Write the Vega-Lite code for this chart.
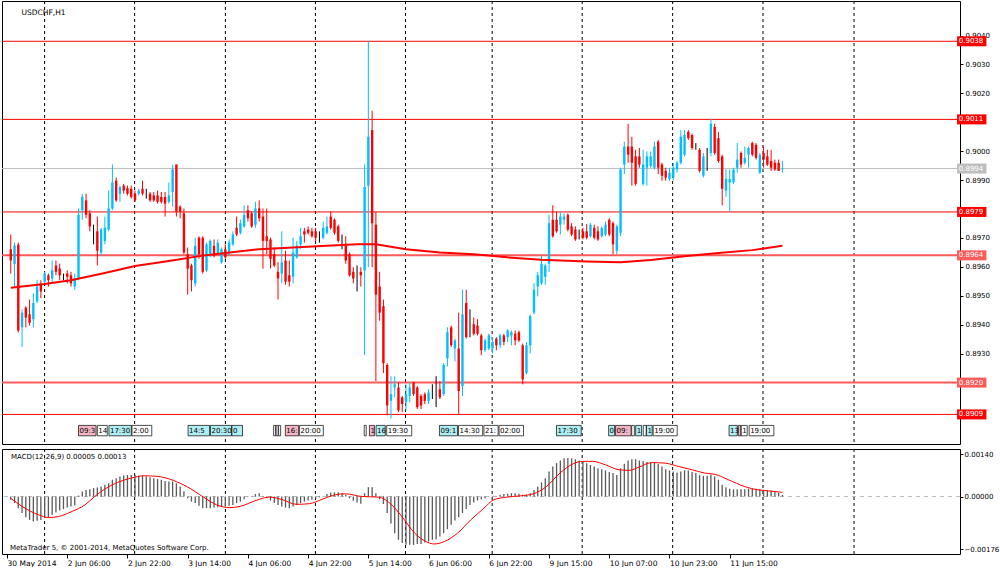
{
  "$schema": "https://vega.github.io/schema/vega-lite/v6.json",
  "background": "white",
  "padding": {"left": 0, "top": 0, "right": 0, "bottom": 0},
  "spacing": 3,
  "resolve": {"scale": {"x": "independent", "y": "independent"}},
  "config": {
    "view": {"stroke": "#000000", "strokeWidth": 1},
    "axis": {"labelFont": "DejaVu Sans", "labelColor": "#000000", "tickColor": "#000000", "domain": false, "grid": false}
  },
  "datasets": {
    "bars": [
      {"k":1,"o":0.89661,"h":0.89712,"l":0.89577,"c":0.89622},
      {"k":2,"o":0.89610,"h":0.89684,"l":0.89532,"c":0.89674},
      {"k":3,"o":0.89677,"h":0.89684,"l":0.89373,"c":0.89380},
      {"k":4,"o":0.89391,"h":0.89453,"l":0.89323,"c":0.89442},
      {"k":5,"o":0.89459,"h":0.89464,"l":0.89391,"c":0.89425},
      {"k":6,"o":0.89436,"h":0.89487,"l":0.89397,"c":0.89407},
      {"k":7,"o":0.89419,"h":0.89509,"l":0.89391,"c":0.89475},
      {"k":8,"o":0.89481,"h":0.89554,"l":0.89475,"c":0.89532},
      {"k":9,"o":0.89538,"h":0.89554,"l":0.89492,"c":0.89515},
      {"k":10,"o":0.89549,"h":0.89583,"l":0.89543,"c":0.89577},
      {"k":11,"o":0.89571,"h":0.89577,"l":0.89532,"c":0.89554},
      {"k":12,"o":0.89560,"h":0.89622,"l":0.89543,"c":0.89588},
      {"k":13,"o":0.89605,"h":0.89622,"l":0.89571,"c":0.89583},
      {"k":14,"o":0.89594,"h":0.89611,"l":0.89554,"c":0.89571},
      {"k":15,"o":0.89566,"h":0.89577,"l":0.89554,"c":0.89566},
      {"k":16,"o":0.89577,"h":0.89588,"l":0.89543,"c":0.89566},
      {"k":17,"o":0.89571,"h":0.89583,"l":0.89532,"c":0.89543},
      {"k":18,"o":0.89532,"h":0.89577,"l":0.89521,"c":0.89560},
      {"k":19,"o":0.89560,"h":0.89802,"l":0.89554,"c":0.89780},
      {"k":20,"o":0.89796,"h":0.89853,"l":0.89763,"c":0.89842},
      {"k":21,"o":0.89830,"h":0.89853,"l":0.89768,"c":0.89780},
      {"k":22,"o":0.89785,"h":0.89796,"l":0.89723,"c":0.89740},
      {"k":23,"o":0.89718,"h":0.89746,"l":0.89678,"c":0.89718},
      {"k":24,"o":0.89723,"h":0.89774,"l":0.89605,"c":0.89656},
      {"k":25,"o":0.89650,"h":0.89735,"l":0.89639,"c":0.89729},
      {"k":26,"o":0.89690,"h":0.89774,"l":0.89678,"c":0.89735},
      {"k":27,"o":0.89729,"h":0.89864,"l":0.89723,"c":0.89802},
      {"k":28,"o":0.89802,"h":0.89954,"l":0.89796,"c":0.89892},
      {"k":29,"o":0.89898,"h":0.89909,"l":0.89825,"c":0.89830},
      {"k":30,"o":0.89853,"h":0.89881,"l":0.89825,"c":0.89876},
      {"k":31,"o":0.89881,"h":0.89887,"l":0.89853,"c":0.89864},
      {"k":32,"o":0.89872,"h":0.89881,"l":0.89847,"c":0.89853},
      {"k":33,"o":0.89870,"h":0.89881,"l":0.89836,"c":0.89842},
      {"k":34,"o":0.89853,"h":0.89864,"l":0.89825,"c":0.89830},
      {"k":35,"o":0.89853,"h":0.89870,"l":0.89847,"c":0.89864},
      {"k":36,"o":0.89870,"h":0.89898,"l":0.89847,"c":0.89853},
      {"k":37,"o":0.89860,"h":0.89870,"l":0.89836,"c":0.89860},
      {"k":38,"o":0.89853,"h":0.89859,"l":0.89825,"c":0.89830},
      {"k":39,"o":0.89847,"h":0.89859,"l":0.89825,"c":0.89830},
      {"k":40,"o":0.89847,"h":0.89864,"l":0.89819,"c":0.89825},
      {"k":41,"o":0.89842,"h":0.89859,"l":0.89819,"c":0.89825},
      {"k":42,"o":0.89842,"h":0.89859,"l":0.89774,"c":0.89819},
      {"k":43,"o":0.89825,"h":0.89892,"l":0.89819,"c":0.89847},
      {"k":44,"o":0.89859,"h":0.89954,"l":0.89808,"c":0.89937},
      {"k":45,"o":0.89954,"h":0.89954,"l":0.89774,"c":0.89791},
      {"k":46,"o":0.89808,"h":0.89813,"l":0.89768,"c":0.89791},
      {"k":47,"o":0.89785,"h":0.89802,"l":0.89644,"c":0.89650},
      {"k":48,"o":0.89644,"h":0.89667,"l":0.89504,"c":0.89594},
      {"k":49,"o":0.89605,"h":0.89611,"l":0.89515,"c":0.89554},
      {"k":50,"o":0.89543,"h":0.89701,"l":0.89532,"c":0.89673},
      {"k":51,"o":0.89701,"h":0.89706,"l":0.89628,"c":0.89644},
      {"k":52,"o":0.89701,"h":0.89706,"l":0.89577,"c":0.89583},
      {"k":53,"o":0.89588,"h":0.89684,"l":0.89583,"c":0.89678},
      {"k":54,"o":0.89644,"h":0.89695,"l":0.89633,"c":0.89690},
      {"k":55,"o":0.89673,"h":0.89695,"l":0.89633,"c":0.89639},
      {"k":56,"o":0.89644,"h":0.89695,"l":0.89639,"c":0.89684},
      {"k":57,"o":0.89616,"h":0.89667,"l":0.89611,"c":0.89661},
      {"k":58,"o":0.89661,"h":0.89678,"l":0.89628,"c":0.89633},
      {"k":59,"o":0.89644,"h":0.89695,"l":0.89639,"c":0.89684},
      {"k":60,"o":0.89678,"h":0.89723,"l":0.89673,"c":0.89712},
      {"k":61,"o":0.89735,"h":0.89774,"l":0.89706,"c":0.89712},
      {"k":62,"o":0.89718,"h":0.89763,"l":0.89712,"c":0.89751},
      {"k":63,"o":0.89740,"h":0.89813,"l":0.89735,"c":0.89780},
      {"k":64,"o":0.89796,"h":0.89813,"l":0.89757,"c":0.89768},
      {"k":65,"o":0.89785,"h":0.89791,"l":0.89735,"c":0.89740},
      {"k":66,"o":0.89746,"h":0.89825,"l":0.89735,"c":0.89802},
      {"k":67,"o":0.89802,"h":0.89830,"l":0.89757,"c":0.89768},
      {"k":68,"o":0.89774,"h":0.89802,"l":0.89594,"c":0.89690},
      {"k":69,"o":0.89706,"h":0.89802,"l":0.89644,"c":0.89690},
      {"k":70,"o":0.89695,"h":0.89701,"l":0.89594,"c":0.89628},
      {"k":71,"o":0.89644,"h":0.89667,"l":0.89599,"c":0.89605},
      {"k":72,"o":0.89583,"h":0.89616,"l":0.89487,"c":0.89560},
      {"k":73,"o":0.89577,"h":0.89723,"l":0.89543,"c":0.89616},
      {"k":74,"o":0.89622,"h":0.89656,"l":0.89538,"c":0.89549},
      {"k":75,"o":0.89571,"h":0.89622,"l":0.89532,"c":0.89549},
      {"k":76,"o":0.89566,"h":0.89701,"l":0.89543,"c":0.89650},
      {"k":77,"o":0.89633,"h":0.89690,"l":0.89628,"c":0.89673},
      {"k":78,"o":0.89678,"h":0.89735,"l":0.89661,"c":0.89706},
      {"k":79,"o":0.89723,"h":0.89735,"l":0.89684,"c":0.89712},
      {"k":80,"o":0.89729,"h":0.89740,"l":0.89712,"c":0.89718},
      {"k":81,"o":0.89723,"h":0.89735,"l":0.89701,"c":0.89706},
      {"k":82,"o":0.89723,"h":0.89735,"l":0.89690,"c":0.89701},
      {"k":83,"o":0.89701,"h":0.89723,"l":0.89684,"c":0.89701},
      {"k":84,"o":0.89701,"h":0.89757,"l":0.89695,"c":0.89735},
      {"k":85,"o":0.89718,"h":0.89774,"l":0.89712,"c":0.89740},
      {"k":86,"o":0.89774,"h":0.89791,"l":0.89729,"c":0.89735},
      {"k":87,"o":0.89763,"h":0.89768,"l":0.89712,"c":0.89718},
      {"k":88,"o":0.89740,"h":0.89746,"l":0.89684,"c":0.89690},
      {"k":89,"o":0.89673,"h":0.89712,"l":0.89661,"c":0.89673},
      {"k":90,"o":0.89673,"h":0.89706,"l":0.89611,"c":0.89622},
      {"k":91,"o":0.89644,"h":0.89650,"l":0.89566,"c":0.89571},
      {"k":92,"o":0.89583,"h":0.89599,"l":0.89543,"c":0.89560},
      {"k":93,"o":0.89583,"h":0.89605,"l":0.89515,"c":0.89583},
      {"k":94,"o":0.89583,"h":0.89599,"l":0.89532,"c":0.89571},
      {"k":95,"o":0.89588,"h":0.89954,"l":0.89295,"c":0.89876},
      {"k":96,"o":0.89881,"h":0.90382,"l":0.89599,"c":0.90050},
      {"k":97,"o":0.90073,"h":0.90140,"l":0.89599,"c":0.89751},
      {"k":98,"o":0.89746,"h":0.89791,"l":0.89205,"c":0.89504},
      {"k":99,"o":0.89532,"h":0.89583,"l":0.89414,"c":0.89442},
      {"k":100,"o":0.89464,"h":0.89487,"l":0.89233,"c":0.89267},
      {"k":101,"o":0.89261,"h":0.89267,"l":0.89087,"c":0.89121},
      {"k":102,"o":0.89137,"h":0.89222,"l":0.89076,"c":0.89160},
      {"k":103,"o":0.89183,"h":0.89222,"l":0.89149,"c":0.89194},
      {"k":104,"o":0.89183,"h":0.89200,"l":0.89098,"c":0.89104},
      {"k":105,"o":0.89149,"h":0.89154,"l":0.89098,"c":0.89126},
      {"k":106,"o":0.89132,"h":0.89194,"l":0.89104,"c":0.89160},
      {"k":107,"o":0.89154,"h":0.89200,"l":0.89132,"c":0.89183},
      {"k":108,"o":0.89200,"h":0.89203,"l":0.89154,"c":0.89160},
      {"k":109,"o":0.89183,"h":0.89188,"l":0.89109,"c":0.89115},
      {"k":110,"o":0.89154,"h":0.89160,"l":0.89109,"c":0.89121},
      {"k":111,"o":0.89160,"h":0.89166,"l":0.89126,"c":0.89137},
      {"k":112,"o":0.89137,"h":0.89177,"l":0.89126,"c":0.89166},
      {"k":113,"o":0.89167,"h":0.89194,"l":0.89143,"c":0.89167},
      {"k":114,"o":0.89160,"h":0.89222,"l":0.89115,"c":0.89160},
      {"k":115,"o":0.89177,"h":0.89205,"l":0.89143,"c":0.89149},
      {"k":116,"o":0.89160,"h":0.89267,"l":0.89154,"c":0.89261},
      {"k":117,"o":0.89284,"h":0.89391,"l":0.89256,"c":0.89374},
      {"k":118,"o":0.89391,"h":0.89397,"l":0.89323,"c":0.89329},
      {"k":119,"o":0.89318,"h":0.89352,"l":0.89273,"c":0.89346},
      {"k":120,"o":0.89318,"h":0.89442,"l":0.89092,"c":0.89171},
      {"k":121,"o":0.89188,"h":0.89521,"l":0.89154,"c":0.89436},
      {"k":122,"o":0.89475,"h":0.89521,"l":0.89352,"c":0.89357},
      {"k":123,"o":0.89430,"h":0.89453,"l":0.89357,"c":0.89430},
      {"k":124,"o":0.89402,"h":0.89425,"l":0.89363,"c":0.89369},
      {"k":125,"o":0.89397,"h":0.89419,"l":0.89363,"c":0.89369},
      {"k":126,"o":0.89363,"h":0.89369,"l":0.89295,"c":0.89312},
      {"k":127,"o":0.89312,"h":0.89352,"l":0.89306,"c":0.89346},
      {"k":128,"o":0.89318,"h":0.89369,"l":0.89312,"c":0.89363},
      {"k":129,"o":0.89318,"h":0.89357,"l":0.89301,"c":0.89340},
      {"k":130,"o":0.89352,"h":0.89357,"l":0.89312,"c":0.89329},
      {"k":131,"o":0.89329,"h":0.89369,"l":0.89318,"c":0.89363},
      {"k":132,"o":0.89363,"h":0.89369,"l":0.89329,"c":0.89340},
      {"k":133,"o":0.89357,"h":0.89385,"l":0.89340,"c":0.89380},
      {"k":134,"o":0.89363,"h":0.89380,"l":0.89329,"c":0.89374},
      {"k":135,"o":0.89369,"h":0.89380,"l":0.89329,"c":0.89346},
      {"k":136,"o":0.89374,"h":0.89380,"l":0.89340,"c":0.89346},
      {"k":137,"o":0.89329,"h":0.89335,"l":0.89194,"c":0.89211},
      {"k":138,"o":0.89233,"h":0.89340,"l":0.89228,"c":0.89329},
      {"k":139,"o":0.89329,"h":0.89436,"l":0.89301,"c":0.89430},
      {"k":140,"o":0.89442,"h":0.89543,"l":0.89436,"c":0.89521},
      {"k":141,"o":0.89532,"h":0.89583,"l":0.89498,"c":0.89571},
      {"k":142,"o":0.89543,"h":0.89639,"l":0.89538,"c":0.89611},
      {"k":143,"o":0.89566,"h":0.89611,"l":0.89538,"c":0.89605},
      {"k":144,"o":0.89611,"h":0.89780,"l":0.89583,"c":0.89751},
      {"k":145,"o":0.89763,"h":0.89813,"l":0.89701,"c":0.89706},
      {"k":146,"o":0.89763,"h":0.89791,"l":0.89718,"c":0.89723},
      {"k":147,"o":0.89746,"h":0.89791,"l":0.89712,"c":0.89774},
      {"k":148,"o":0.89763,"h":0.89785,"l":0.89746,"c":0.89774},
      {"k":149,"o":0.89780,"h":0.89785,"l":0.89723,"c":0.89729},
      {"k":150,"o":0.89740,"h":0.89751,"l":0.89706,"c":0.89712},
      {"k":151,"o":0.89729,"h":0.89740,"l":0.89690,"c":0.89695},
      {"k":152,"o":0.89706,"h":0.89729,"l":0.89695,"c":0.89706},
      {"k":153,"o":0.89723,"h":0.89735,"l":0.89695,"c":0.89701},
      {"k":154,"o":0.89723,"h":0.89748,"l":0.89695,"c":0.89701},
      {"k":155,"o":0.89706,"h":0.89751,"l":0.89701,"c":0.89746},
      {"k":156,"o":0.89735,"h":0.89746,"l":0.89695,"c":0.89701},
      {"k":157,"o":0.89723,"h":0.89740,"l":0.89690,"c":0.89695},
      {"k":158,"o":0.89706,"h":0.89740,"l":0.89701,"c":0.89735},
      {"k":159,"o":0.89712,"h":0.89757,"l":0.89706,"c":0.89746},
      {"k":160,"o":0.89763,"h":0.89768,"l":0.89706,"c":0.89712},
      {"k":161,"o":0.89751,"h":0.89757,"l":0.89644,"c":0.89678},
      {"k":162,"o":0.89656,"h":0.89746,"l":0.89644,"c":0.89740},
      {"k":163,"o":0.89718,"h":0.89943,"l":0.89706,"c":0.89937},
      {"k":164,"o":0.89954,"h":0.90033,"l":0.89921,"c":0.90016},
      {"k":165,"o":0.90016,"h":0.90095,"l":0.89960,"c":0.89988},
      {"k":166,"o":0.90016,"h":0.90050,"l":0.89881,"c":0.89960},
      {"k":167,"o":0.89982,"h":0.90005,"l":0.89881,"c":0.89887},
      {"k":168,"o":0.89982,"h":0.90011,"l":0.89943,"c":0.89954},
      {"k":169,"o":0.89887,"h":0.90005,"l":0.89881,"c":0.89954},
      {"k":170,"o":0.89943,"h":0.89999,"l":0.89881,"c":0.89982},
      {"k":171,"o":0.89949,"h":0.89999,"l":0.89943,"c":0.89982},
      {"k":172,"o":0.89943,"h":0.90033,"l":0.89937,"c":0.90016},
      {"k":173,"o":0.90033,"h":0.90039,"l":0.89921,"c":0.89943},
      {"k":174,"o":0.89954,"h":0.89960,"l":0.89898,"c":0.89915},
      {"k":175,"o":0.89932,"h":0.89943,"l":0.89898,"c":0.89909},
      {"k":176,"o":0.89904,"h":0.89943,"l":0.89898,"c":0.89926},
      {"k":177,"o":0.89909,"h":0.89960,"l":0.89898,"c":0.89943},
      {"k":178,"o":0.89937,"h":0.89966,"l":0.89926,"c":0.89960},
      {"k":179,"o":0.89960,"h":0.90073,"l":0.89954,"c":0.90050},
      {"k":180,"o":0.89988,"h":0.90073,"l":0.89982,"c":0.90056},
      {"k":181,"o":0.90067,"h":0.90073,"l":0.90039,"c":0.90045},
      {"k":182,"o":0.90056,"h":0.90061,"l":0.90005,"c":0.90011},
      {"k":183,"o":0.90015,"h":0.90028,"l":0.90005,"c":0.90015},
      {"k":184,"o":0.90005,"h":0.90011,"l":0.89926,"c":0.89932},
      {"k":185,"o":0.89915,"h":0.89994,"l":0.89909,"c":0.89982},
      {"k":186,"o":0.89971,"h":0.90011,"l":0.89932,"c":0.89971},
      {"k":187,"o":0.89994,"h":0.90112,"l":0.89982,"c":0.90095},
      {"k":188,"o":0.90084,"h":0.90095,"l":0.89988,"c":0.89994},
      {"k":189,"o":0.90045,"h":0.90067,"l":0.89960,"c":0.89966},
      {"k":190,"o":0.89982,"h":0.89988,"l":0.89813,"c":0.89870},
      {"k":191,"o":0.89864,"h":0.89937,"l":0.89842,"c":0.89904},
      {"k":192,"o":0.89892,"h":0.89937,"l":0.89791,"c":0.89904},
      {"k":193,"o":0.89892,"h":0.89943,"l":0.89887,"c":0.89937},
      {"k":194,"o":0.89943,"h":0.90028,"l":0.89926,"c":0.89971},
      {"k":195,"o":0.89994,"h":0.89999,"l":0.89943,"c":0.89954},
      {"k":196,"o":0.89960,"h":0.90016,"l":0.89954,"c":0.89977},
      {"k":197,"o":0.89988,"h":0.90016,"l":0.89943,"c":0.90011},
      {"k":198,"o":0.90028,"h":0.90033,"l":0.89982,"c":0.89988},
      {"k":199,"o":0.90022,"h":0.90028,"l":0.89971,"c":0.89977},
      {"k":200,"o":0.89926,"h":0.89994,"l":0.89921,"c":0.89988},
      {"k":201,"o":0.89994,"h":0.90016,"l":0.89943,"c":0.89971},
      {"k":202,"o":0.89982,"h":0.90005,"l":0.89949,"c":0.89954},
      {"k":203,"o":0.89966,"h":0.90005,"l":0.89932,"c":0.89943},
      {"k":204,"o":0.89960,"h":0.89971,"l":0.89932,"c":0.89937},
      {"k":205,"o":0.89960,"h":0.89971,"l":0.89932,"c":0.89932},
      {"k":206,"o":0.89937,"h":0.89966,"l":0.89926,"c":0.89940}
    ],
    "ma": [
      {"k":1,"p":0.89528},{"k":10,"p":0.89541},{"k":17,"p":0.89554},{"k":26,"p":0.89579},
      {"k":34,"p":0.89603},{"k":43,"p":0.89620},{"k":52,"p":0.89639},{"k":58,"p":0.89648},
      {"k":67,"p":0.89661},{"k":76,"p":0.89667},{"k":85,"p":0.89673},{"k":93,"p":0.89678},
      {"k":98,"p":0.89678},{"k":106,"p":0.89661},{"k":115,"p":0.89650},{"k":124,"p":0.89644},
      {"k":133,"p":0.89633},{"k":142,"p":0.89625},{"k":154,"p":0.89619},{"k":163,"p":0.89616},
      {"k":171,"p":0.89624},{"k":180,"p":0.89637},{"k":189,"p":0.89648},{"k":198,"p":0.89658},
      {"k":206,"p":0.89673}
    ],
    "hist": [
      {"k":1,"v":-0.00011},{"k":2,"v":-0.00022},{"k":3,"v":-0.00039},{"k":4,"v":-0.00055},{"k":5,"v":-0.00069},
      {"k":6,"v":-0.00078},{"k":7,"v":-0.00083},{"k":8,"v":-0.00081},{"k":9,"v":-0.00078},{"k":10,"v":-0.00072},
      {"k":11,"v":-0.00069},{"k":12,"v":-0.00061},{"k":13,"v":-0.00053},{"k":14,"v":-0.00047},{"k":15,"v":-0.00042},
      {"k":16,"v":-0.00037},{"k":17,"v":-0.00033},{"k":18,"v":-0.00030},{"k":19,"v":0.00003},{"k":20,"v":0.00017},
      {"k":21,"v":0.00022},{"k":22,"v":0.00024},{"k":23,"v":0.00028},{"k":24,"v":0.00030},{"k":25,"v":0.00033},
      {"k":26,"v":0.00039},{"k":27,"v":0.00044},{"k":28,"v":0.00056},{"k":29,"v":0.00061},{"k":30,"v":0.00067},
      {"k":31,"v":0.00070},{"k":32,"v":0.00072},{"k":33,"v":0.00072},{"k":34,"v":0.00072},{"k":35,"v":0.00070},
      {"k":36,"v":0.00069},{"k":37,"v":0.00067},{"k":38,"v":0.00064},{"k":39,"v":0.00061},{"k":40,"v":0.00058},
      {"k":41,"v":0.00056},{"k":42,"v":0.00052},{"k":43,"v":0.00050},{"k":44,"v":0.00050},{"k":45,"v":0.00044},
      {"k":46,"v":0.00033},{"k":47,"v":0.00017},{"k":48,"v":-0.00006},{"k":49,"v":-0.00017},{"k":50,"v":-0.00022},
      {"k":51,"v":-0.00031},{"k":52,"v":-0.00039},{"k":53,"v":-0.00039},{"k":54,"v":-0.00039},{"k":55,"v":-0.00037},
      {"k":56,"v":-0.00036},{"k":57,"v":-0.00033},{"k":58,"v":-0.00033},{"k":59,"v":-0.00031},{"k":60,"v":-0.00028},
      {"k":61,"v":-0.00022},{"k":62,"v":-0.00017},{"k":63,"v":-0.00009},{"k":64,"v":-0.00002},{"k":65,"v":0.00002},
      {"k":66,"v":0.00008},{"k":67,"v":0.00011},{"k":68,"v":0.00002},{"k":69,"v":-0.00006},{"k":70,"v":-0.00014},
      {"k":71,"v":-0.00022},{"k":72,"v":-0.00028},{"k":73,"v":-0.00033},{"k":74,"v":-0.00037},{"k":75,"v":-0.00039},
      {"k":76,"v":-0.00033},{"k":77,"v":-0.00028},{"k":78,"v":-0.00022},{"k":79,"v":-0.00017},{"k":80,"v":-0.00013},
      {"k":81,"v":-0.00011},{"k":82,"v":-0.00007},{"k":83,"v":-0.00003},{"k":84,"v":0.00002},{"k":85,"v":0.00008},
      {"k":86,"v":0.00013},{"k":87,"v":0.00014},{"k":88,"v":0.00014},{"k":89,"v":0.00011},{"k":90,"v":0.00006},
      {"k":91,"v":-0.00006},{"k":92,"v":-0.00014},{"k":93,"v":-0.00020},{"k":94,"v":-0.00024},{"k":95,"v":0.00011},
      {"k":96,"v":0.00031},{"k":97,"v":0.00031},{"k":98,"v":0.00011},{"k":99,"v":-0.00009},{"k":100,"v":-0.00025},
      {"k":101,"v":-0.00055},{"k":102,"v":-0.00090},{"k":103,"v":-0.00122},{"k":104,"v":-0.00144},{"k":105,"v":-0.00155},
      {"k":106,"v":-0.00161},{"k":107,"v":-0.00161},{"k":108,"v":-0.00161},{"k":109,"v":-0.00158},{"k":110,"v":-0.00158},
      {"k":111,"v":-0.00153},{"k":112,"v":-0.00150},{"k":113,"v":-0.00144},{"k":114,"v":-0.00142},{"k":115,"v":-0.00133},
      {"k":116,"v":-0.00122},{"k":117,"v":-0.00109},{"k":118,"v":-0.00094},{"k":119,"v":-0.00080},{"k":120,"v":-0.00069},
      {"k":121,"v":-0.00055},{"k":122,"v":-0.00042},{"k":123,"v":-0.00028},{"k":124,"v":-0.00020},{"k":125,"v":-0.00013},
      {"k":126,"v":-0.00009},{"k":127,"v":-0.00006},{"k":128,"v":-0.00002},{"k":129,"v":0.00001},{"k":130,"v":0.00002},
      {"k":131,"v":0.00006},{"k":132,"v":0.00008},{"k":133,"v":0.00009},{"k":134,"v":0.00011},{"k":135,"v":0.00011},
      {"k":136,"v":0.00009},{"k":137,"v":0.00006},{"k":138,"v":0.00006},{"k":139,"v":0.00011},{"k":140,"v":0.00022},
      {"k":141,"v":0.00033},{"k":142,"v":0.00047},{"k":143,"v":0.00061},{"k":144,"v":0.00083},{"k":145,"v":0.00100},
      {"k":146,"v":0.00111},{"k":147,"v":0.00120},{"k":148,"v":0.00127},{"k":149,"v":0.00128},{"k":150,"v":0.00127},
      {"k":151,"v":0.00124},{"k":152,"v":0.00120},{"k":153,"v":0.00115},{"k":154,"v":0.00111},{"k":155,"v":0.00105},
      {"k":156,"v":0.00100},{"k":157,"v":0.00094},{"k":158,"v":0.00091},{"k":159,"v":0.00087},{"k":160,"v":0.00082},
      {"k":161,"v":0.00078},{"k":162,"v":0.00072},{"k":163,"v":0.00094},{"k":164,"v":0.00109},{"k":165,"v":0.00120},
      {"k":166,"v":0.00124},{"k":167,"v":0.00124},{"k":168,"v":0.00120},{"k":169,"v":0.00118},{"k":170,"v":0.00115},
      {"k":171,"v":0.00113},{"k":172,"v":0.00113},{"k":173,"v":0.00109},{"k":174,"v":0.00100},{"k":175,"v":0.00091},
      {"k":176,"v":0.00087},{"k":177,"v":0.00083},{"k":178,"v":0.00080},{"k":179,"v":0.00083},{"k":180,"v":0.00087},
      {"k":181,"v":0.00087},{"k":182,"v":0.00082},{"k":183,"v":0.00078},{"k":184,"v":0.00071},{"k":185,"v":0.00069},
      {"k":186,"v":0.00069},{"k":187,"v":0.00073},{"k":188,"v":0.00067},{"k":189,"v":0.00056},{"k":190,"v":0.00039},
      {"k":191,"v":0.00031},{"k":192,"v":0.00026},{"k":193,"v":0.00024},{"k":194,"v":0.00024},{"k":195,"v":0.00024},
      {"k":196,"v":0.00024},{"k":197,"v":0.00026},{"k":198,"v":0.00027},{"k":199,"v":0.00026},{"k":200,"v":0.00024},
      {"k":201,"v":0.00022},{"k":202,"v":0.00021},{"k":203,"v":0.00020},{"k":204,"v":0.00015},{"k":205,"v":0.00012},
      {"k":206,"v":0.00005}
    ],
    "sig": [
      {"k":1,"v":-0.00006},{"k":4,"v":-0.00033},{"k":8.4,"v":-0.00061},{"k":11,"v":-0.00070},{"k":13.6,"v":-0.00067},
      {"k":17.2,"v":-0.00050},{"k":20.7,"v":-0.00028},{"k":23.3,"v":0.0},{"k":25.9,"v":0.00024},{"k":29.4,"v":0.00047},
      {"k":32.9,"v":0.00061},{"k":36.4,"v":0.00069},{"k":40,"v":0.00067},{"k":44.3,"v":0.00053},{"k":47.8,"v":0.00033},
      {"k":52.2,"v":-0.00002},{"k":55.7,"v":-0.00028},{"k":59.2,"v":-0.00037},{"k":61.9,"v":-0.00033},{"k":66.2,"v":-0.00013},
      {"k":69.7,"v":-0.00002},{"k":73.3,"v":-0.00011},{"k":76.8,"v":-0.00026},{"k":80.3,"v":-0.00024},{"k":83.8,"v":-0.00009},
      {"k":87.3,"v":0.00006},{"k":89.9,"v":0.00009},{"k":94.3,"v":0.0},{"k":98.7,"v":-0.00002},{"k":102.2,"v":-0.00028},
      {"k":104.8,"v":-0.00065},{"k":108.3,"v":-0.00122},{"k":111.8,"v":-0.00153},{"k":113.5,"v":-0.00158},{"k":116.2,"v":-0.00150},
      {"k":119.7,"v":-0.00122},{"k":123.2,"v":-0.00078},{"k":126.7,"v":-0.00039},{"k":129.3,"v":-0.00011},{"k":132.8,"v":-0.00002},
      {"k":136.3,"v":0.00002},{"k":139.8,"v":0.00009},{"k":143.3,"v":0.00033},{"k":146.9,"v":0.00078},{"k":150.4,"v":0.00109},
      {"k":153,"v":0.00117},{"k":155.6,"v":0.00117},{"k":159.1,"v":0.00105},{"k":162.6,"v":0.00089},{"k":165.3,"v":0.00087},
      {"k":167.9,"v":0.00098},{"k":171.4,"v":0.00113},{"k":174.9,"v":0.00111},{"k":178.4,"v":0.00100},{"k":182,"v":0.00089},
      {"k":185.4,"v":0.00078},{"k":188.1,"v":0.00074},{"k":191.6,"v":0.00056},{"k":196,"v":0.00033},{"k":199.5,"v":0.00022},
      {"k":201.2,"v":0.00020},{"k":206,"v":0.00014}
    ],
    "seps": [
      {"k":9.99},{"k":33.91},{"k":58.02},{"k":81.94},{"k":105.86},
      {"k":128.89},{"k":152.81},{"k":176.84},{"k":200.84},{"k":225.03}
    ],
    "levels": [
      {"p":0.9038,"kind":"line"},{"p":0.9011,"kind":"line"},{"p":0.8994,"kind":"bid"},
      {"p":0.8979,"kind":"line"},{"p":0.8964,"kind":"zone"},{"p":0.892,"kind":"zone"},
      {"p":0.8909,"kind":"line"}
    ],
    "flags": [
      {"k0":19.0,"k1":23.66,"t":"09:3","imp":"high"},
      {"k0":24.0,"k1":26.63,"t":"14","imp":"low"},
      {"k0":27.08,"k1":33.04,"t":"17:30","imp":"medium"},
      {"k0":33.2,"k1":38.46,"t":"2:00","imp":"low"},
      {"k0":48.1,"k1":53.81,"t":"14:5","imp":"medium"},
      {"k0":54.07,"k1":59.67,"t":"20:30","imp":"medium"},
      {"k0":59.75,"k1":62.57,"t":"0","imp":"medium"},
      {"k0":70.84,"k1":71.37,"t":"","imp":"low"},
      {"k0":71.5,"k1":72.03,"t":"","imp":"low"},
      {"k0":72.16,"k1":72.69,"t":"","imp":"low"},
      {"k0":73.95,"k1":77.47,"t":"16:","imp":"high"},
      {"k0":77.73,"k1":84.04,"t":"20:00","imp":"low"},
      {"k0":94.9,"k1":95.43,"t":"","imp":"low"},
      {"k0":96.29,"k1":97.61,"t":"1","imp":"high"},
      {"k0":98.05,"k1":100.5,"t":"16","imp":"medium"},
      {"k0":100.87,"k1":107.52,"t":"19:30","imp":"low"},
      {"k0":114.88,"k1":119.69,"t":"09:1","imp":"medium"},
      {"k0":119.95,"k1":126.37,"t":"14:30","imp":"low"},
      {"k0":126.7,"k1":130.47,"t":"21:","imp":"low"},
      {"k0":130.73,"k1":137.22,"t":"02:00","imp":"low"},
      {"k0":145.98,"k1":152.55,"t":"17:30","imp":"medium"},
      {"k0":159.83,"k1":161.41,"t":"0","imp":"medium"},
      {"k0":161.67,"k1":165.8,"t":"09:","imp":"high"},
      {"k0":165.96,"k1":166.67,"t":"","imp":"low"},
      {"k0":167.01,"k1":168.59,"t":"1","imp":"medium"},
      {"k0":169.03,"k1":169.82,"t":"","imp":"low"},
      {"k0":169.9,"k1":171.4,"t":"1","imp":"medium"},
      {"k0":171.66,"k1":178.05,"t":"19:00","imp":"low"},
      {"k0":191.82,"k1":194.01,"t":"13","imp":"medium"},
      {"k0":194.27,"k1":194.93,"t":"","imp":"high"},
      {"k0":195.06,"k1":196.64,"t":"1","imp":"low"},
      {"k0":197.16,"k1":203.73,"t":"19:00","imp":"low"}
    ]
  },
  "vconcat": [
    {
      "width": 958,
      "height": 443,
      "layer": [
        {
          "data": {"name": "seps"},
          "mark": {"type": "rule", "color": "#000000", "strokeDash": [3, 3], "strokeWidth": 1},
          "encoding": {
            "x": {"field": "k", "type": "quantitative", "title": null, "scale": {"domain": [0, 251.85], "nice": false, "zero": false}, "axis": null}
          }
        },
        {
          "data": {"name": "levels"},
          "mark": {"type": "rule"},
          "encoding": {
            "y": {"field": "p", "type": "quantitative", "title": null, "scale": {"domain": [0.89005, 0.90502], "nice": false, "zero": false},
              "axis": {"orient": "right", "format": ".4f", "tickSize": 3, "labelPadding": 2, "labelFontSize": 7, "labelOverlap": false, "labelFlush": false, "labelBound": false, "values": [0.893, 0.894, 0.895, 0.896, 0.897, 0.899, 0.9, 0.902, 0.903, 0.904]}},
            "color": {"field": "kind", "type": "nominal", "legend": null,
              "scale": {"domain": ["line", "zone", "bid"], "range": ["#FF0000", "#FF5A5A", "#BEBEBE"]}},
            "strokeWidth": {"condition": {"test": "datum.kind === 'zone'", "value": 2}, "value": 1}
          }
        },
        {
          "data": {"name": "bars"},
          "mark": {"type": "rule", "strokeWidth": 1},
          "encoding": {
            "x": {"field": "k", "type": "quantitative", "title": null, "scale": {"domain": [0, 251.85], "nice": false, "zero": false}, "axis": null},
            "y": {"field": "l", "type": "quantitative", "title": null, "scale": {"domain": [0.89005, 0.90502], "nice": false, "zero": false},
              "axis": {"orient": "right", "format": ".4f", "tickSize": 3, "labelPadding": 2, "labelFontSize": 7, "labelOverlap": false, "labelFlush": false, "labelBound": false, "values": [0.893, 0.894, 0.895, 0.896, 0.897, 0.899, 0.9, 0.902, 0.903, 0.904]}},
            "y2": {"field": "h"},
            "color": {"condition": [{"test": "datum.c > datum.o", "value": "#00BFFF"}, {"test": "datum.c < datum.o", "value": "#FF0000"}], "value": "#000000"}
          }
        },
        {
          "data": {"name": "bars"},
          "mark": {"type": "bar", "orient": "vertical", "size": 2.4},
          "encoding": {
            "x": {"field": "k", "type": "quantitative", "title": null, "scale": {"domain": [0, 251.85], "nice": false, "zero": false}, "axis": null},
            "y": {"field": "o", "type": "quantitative", "title": null, "scale": {"domain": [0.89005, 0.90502], "nice": false, "zero": false},
              "axis": {"orient": "right", "format": ".4f", "tickSize": 3, "labelPadding": 2, "labelFontSize": 7, "labelOverlap": false, "labelFlush": false, "labelBound": false, "values": [0.893, 0.894, 0.895, 0.896, 0.897, 0.899, 0.9, 0.902, 0.903, 0.904]}},
            "y2": {"field": "c"},
            "color": {"condition": [{"test": "datum.c > datum.o", "value": "#00BFFF"}, {"test": "datum.c < datum.o", "value": "#FF0000"}], "value": "#000000"}
          }
        },
        {
          "data": {"name": "ma"},
          "mark": {"type": "line", "color": "#FF0000", "strokeWidth": 2},
          "encoding": {
            "x": {"field": "k", "type": "quantitative", "title": null, "scale": {"domain": [0, 251.85], "nice": false, "zero": false}, "axis": null},
            "y": {"field": "p", "type": "quantitative", "title": null, "scale": {"domain": [0.89005, 0.90502], "nice": false, "zero": false},
              "axis": {"orient": "right", "format": ".4f", "tickSize": 3, "labelPadding": 2, "labelFontSize": 7, "labelOverlap": false, "labelFlush": false, "labelBound": false, "values": [0.893, 0.894, 0.895, 0.896, 0.897, 0.899, 0.9, 0.902, 0.903, 0.904]}}
          }
        },
        {
          "data": {"name": "flags"},
          "mark": {"type": "rect", "stroke": "#000000", "strokeWidth": 0.7},
          "encoding": {
            "x": {"field": "k0", "type": "quantitative", "title": null, "scale": {"domain": [0, 251.85], "nice": false, "zero": false}, "axis": null},
            "x2": {"field": "k1"},
            "y": {"datum": 0.89052, "type": "quantitative", "title": null, "scale": {"domain": [0.89005, 0.90502], "nice": false, "zero": false},
              "axis": {"orient": "right", "format": ".4f", "tickSize": 3, "labelPadding": 2, "labelFontSize": 7, "labelOverlap": false, "labelFlush": false, "labelBound": false, "values": [0.893, 0.894, 0.895, 0.896, 0.897, 0.899, 0.9, 0.902, 0.903, 0.904]}},
            "y2": {"datum": 0.89016},
            "fill": {"field": "imp", "type": "nominal", "legend": null,
              "scale": {"domain": ["low", "medium", "high"], "range": ["#FFFFFF", "#AEEFF3", "#F4B6C6"]}}
          }
        },
        {
          "data": {"name": "flags"},
          "mark": {"type": "text", "align": "left", "baseline": "middle", "dx": 1, "font": "DejaVu Sans", "fontSize": 7, "color": "#000000"},
          "encoding": {
            "x": {"field": "k0", "type": "quantitative", "title": null, "scale": {"domain": [0, 251.85], "nice": false, "zero": false}, "axis": null},
            "y": {"datum": 0.89034, "type": "quantitative", "title": null, "scale": {"domain": [0.89005, 0.90502], "nice": false, "zero": false},
              "axis": {"orient": "right", "format": ".4f", "tickSize": 3, "labelPadding": 2, "labelFontSize": 7, "labelOverlap": false, "labelFlush": false, "labelBound": false, "values": [0.893, 0.894, 0.895, 0.896, 0.897, 0.899, 0.9, 0.902, 0.903, 0.904]}},
            "text": {"field": "t"}
          }
        },
        {
          "data": {"values": [{"t": "USDCHF,H1"}]},
          "mark": {"type": "text", "align": "left", "baseline": "middle", "font": "DejaVu Sans", "fontSize": 7.5, "color": "#000000"},
          "encoding": {
            "x": {"datum": 3.86, "type": "quantitative", "title": null, "scale": {"domain": [0, 251.85], "nice": false, "zero": false}, "axis": null},
            "y": {"datum": 0.90478, "type": "quantitative", "title": null, "scale": {"domain": [0.89005, 0.90502], "nice": false, "zero": false},
              "axis": {"orient": "right", "format": ".4f", "tickSize": 3, "labelPadding": 2, "labelFontSize": 7, "labelOverlap": false, "labelFlush": false, "labelBound": false, "values": [0.893, 0.894, 0.895, 0.896, 0.897, 0.899, 0.9, 0.902, 0.903, 0.904]}},
            "text": {"field": "t"}
          }
        },
        {
          "data": {"name": "levels"},
          "mark": {"type": "bar", "orient": "horizontal", "size": 10},
          "encoding": {
            "x": {"datum": 252.4, "type": "quantitative", "title": null, "scale": {"domain": [0, 251.85], "nice": false, "zero": false}, "axis": null},
            "x2": {"datum": 260.2},
            "y": {"field": "p", "type": "quantitative", "title": null, "scale": {"domain": [0.89005, 0.90502], "nice": false, "zero": false},
              "axis": {"orient": "right", "format": ".4f", "tickSize": 3, "labelPadding": 2, "labelFontSize": 7, "labelOverlap": false, "labelFlush": false, "labelBound": false, "values": [0.893, 0.894, 0.895, 0.896, 0.897, 0.899, 0.9, 0.902, 0.903, 0.904]}},
            "color": {"field": "kind", "type": "nominal", "legend": null,
              "scale": {"domain": ["line", "zone", "bid"], "range": ["#FF0000", "#FF5A5A", "#BEBEBE"]}}
          }
        },
        {
          "data": {"name": "levels"},
          "mark": {"type": "text", "align": "left", "baseline": "middle", "font": "DejaVu Sans", "fontSize": 7, "color": "#FFFFFF"},
          "encoding": {
            "x": {"datum": 252.85, "type": "quantitative", "title": null, "scale": {"domain": [0, 251.85], "nice": false, "zero": false}, "axis": null},
            "y": {"field": "p", "type": "quantitative", "title": null, "scale": {"domain": [0.89005, 0.90502], "nice": false, "zero": false},
              "axis": {"orient": "right", "format": ".4f", "tickSize": 3, "labelPadding": 2, "labelFontSize": 7, "labelOverlap": false, "labelFlush": false, "labelBound": false, "values": [0.893, 0.894, 0.895, 0.896, 0.897, 0.899, 0.9, 0.902, 0.903, 0.904]}},
            "text": {"field": "p", "format": ".4f"}
          }
        }
      ]
    },
    {
      "width": 958,
      "height": 105,
      "layer": [
        {
          "data": {"name": "seps"},
          "mark": {"type": "rule", "color": "#000000", "strokeDash": [3, 3], "strokeWidth": 1},
          "encoding": {
            "x": {"field": "k", "type": "quantitative", "title": null, "scale": {"domain": [0, 251.85], "nice": false, "zero": false},
              "axis": {"orient": "bottom", "values": [0, 16, 32, 48, 64, 80, 96, 112, 128, 144, 160, 176, 192], "labelExpr": "['30 May 2014','2 Jun 06:00','2 Jun 22:00','3 Jun 14:00','4 Jun 06:00','4 Jun 22:00','5 Jun 14:00','6 Jun 06:00','6 Jun 22:00','9 Jun 15:00','10 Jun 07:00','10 Jun 23:00','11 Jun 15:00'][round(datum.value / 16)]", "labelAlign": "left", "labelFontSize": 7.5, "tickSize": 4, "labelPadding": 1, "labelFlush": false, "labelOverlap": false, "labelBound": false}}
          }
        },
        {
          "data": {"values": [{"v": 0}]},
          "mark": {"type": "rule", "color": "#BEBEBE", "strokeDash": [4, 4], "strokeWidth": 1},
          "encoding": {
            "y": {"field": "v", "type": "quantitative", "title": null, "scale": {"domain": [-0.001915, 0.001582], "nice": false, "zero": false},
              "axis": {"orient": "right", "values": [0.0014, 0, -0.00176], "format": ".5f", "tickSize": 3, "labelPadding": 1, "labelFontSize": 7, "labelOverlap": false, "labelFlush": false, "labelBound": false}}
          }
        },
        {
          "data": {"name": "hist"},
          "mark": {"type": "bar", "orient": "vertical", "size": 1.3, "color": "#5A5A5A"},
          "encoding": {
            "x": {"field": "k", "type": "quantitative", "title": null, "scale": {"domain": [0, 251.85], "nice": false, "zero": false},
              "axis": {"orient": "bottom", "values": [0, 16, 32, 48, 64, 80, 96, 112, 128, 144, 160, 176, 192], "labelExpr": "['30 May 2014','2 Jun 06:00','2 Jun 22:00','3 Jun 14:00','4 Jun 06:00','4 Jun 22:00','5 Jun 14:00','6 Jun 06:00','6 Jun 22:00','9 Jun 15:00','10 Jun 07:00','10 Jun 23:00','11 Jun 15:00'][round(datum.value / 16)]", "labelAlign": "left", "labelFontSize": 7.5, "tickSize": 4, "labelPadding": 1, "labelFlush": false, "labelOverlap": false, "labelBound": false}},
            "y": {"field": "v", "type": "quantitative", "title": null, "scale": {"domain": [-0.001915, 0.001582], "nice": false, "zero": false},
              "axis": {"orient": "right", "values": [0.0014, 0, -0.00176], "format": ".5f", "tickSize": 3, "labelPadding": 1, "labelFontSize": 7, "labelOverlap": false, "labelFlush": false, "labelBound": false}},
            "y2": {"datum": 0}
          }
        },
        {
          "data": {"name": "sig"},
          "mark": {"type": "line", "color": "#FF0000", "strokeWidth": 1, "interpolate": "monotone"},
          "encoding": {
            "x": {"field": "k", "type": "quantitative", "title": null, "scale": {"domain": [0, 251.85], "nice": false, "zero": false},
              "axis": {"orient": "bottom", "values": [0, 16, 32, 48, 64, 80, 96, 112, 128, 144, 160, 176, 192], "labelExpr": "['30 May 2014','2 Jun 06:00','2 Jun 22:00','3 Jun 14:00','4 Jun 06:00','4 Jun 22:00','5 Jun 14:00','6 Jun 06:00','6 Jun 22:00','9 Jun 15:00','10 Jun 07:00','10 Jun 23:00','11 Jun 15:00'][round(datum.value / 16)]", "labelAlign": "left", "labelFontSize": 7.5, "tickSize": 4, "labelPadding": 1, "labelFlush": false, "labelOverlap": false, "labelBound": false}},
            "y": {"field": "v", "type": "quantitative", "title": null, "scale": {"domain": [-0.001915, 0.001582], "nice": false, "zero": false},
              "axis": {"orient": "right", "values": [0.0014, 0, -0.00176], "format": ".5f", "tickSize": 3, "labelPadding": 1, "labelFontSize": 7, "labelOverlap": false, "labelFlush": false, "labelBound": false}}
          }
        },
        {
          "data": {"values": [{"t": "MACD(12,26,9) 0.00005 0.00013"}]},
          "mark": {"type": "text", "align": "left", "baseline": "middle", "font": "DejaVu Sans", "fontSize": 7, "color": "#000000"},
          "encoding": {
            "x": {"datum": 1.05, "type": "quantitative", "title": null, "scale": {"domain": [0, 251.85], "nice": false, "zero": false},
              "axis": {"orient": "bottom", "values": [0, 16, 32, 48, 64, 80, 96, 112, 128, 144, 160, 176, 192], "labelExpr": "['30 May 2014','2 Jun 06:00','2 Jun 22:00','3 Jun 14:00','4 Jun 06:00','4 Jun 22:00','5 Jun 14:00','6 Jun 06:00','6 Jun 22:00','9 Jun 15:00','10 Jun 07:00','10 Jun 23:00','11 Jun 15:00'][round(datum.value / 16)]", "labelAlign": "left", "labelFontSize": 7.5, "tickSize": 4, "labelPadding": 1, "labelFlush": false, "labelOverlap": false, "labelBound": false}},
            "y": {"datum": 0.001305, "type": "quantitative", "title": null, "scale": {"domain": [-0.001915, 0.001582], "nice": false, "zero": false},
              "axis": {"orient": "right", "values": [0.0014, 0, -0.00176], "format": ".5f", "tickSize": 3, "labelPadding": 1, "labelFontSize": 7, "labelOverlap": false, "labelFlush": false, "labelBound": false}},
            "text": {"field": "t"}
          }
        },
        {
          "data": {"values": [{"t": "MetaTrader 5, © 2001-2014, MetaQuotes Software Corp."}]},
          "mark": {"type": "text", "align": "left", "baseline": "middle", "font": "DejaVu Sans", "fontSize": 7, "color": "#000000"},
          "encoding": {
            "x": {"datum": 0.8, "type": "quantitative", "title": null, "scale": {"domain": [0, 251.85], "nice": false, "zero": false},
              "axis": {"orient": "bottom", "values": [0, 16, 32, 48, 64, 80, 96, 112, 128, 144, 160, 176, 192], "labelExpr": "['30 May 2014','2 Jun 06:00','2 Jun 22:00','3 Jun 14:00','4 Jun 06:00','4 Jun 22:00','5 Jun 14:00','6 Jun 06:00','6 Jun 22:00','9 Jun 15:00','10 Jun 07:00','10 Jun 23:00','11 Jun 15:00'][round(datum.value / 16)]", "labelAlign": "left", "labelFontSize": 7.5, "tickSize": 4, "labelPadding": 1, "labelFlush": false, "labelOverlap": false, "labelBound": false}},
            "y": {"datum": -0.001715, "type": "quantitative", "title": null, "scale": {"domain": [-0.001915, 0.001582], "nice": false, "zero": false},
              "axis": {"orient": "right", "values": [0.0014, 0, -0.00176], "format": ".5f", "tickSize": 3, "labelPadding": 1, "labelFontSize": 7, "labelOverlap": false, "labelFlush": false, "labelBound": false}},
            "text": {"field": "t"}
          }
        }
      ]
    }
  ]
}
